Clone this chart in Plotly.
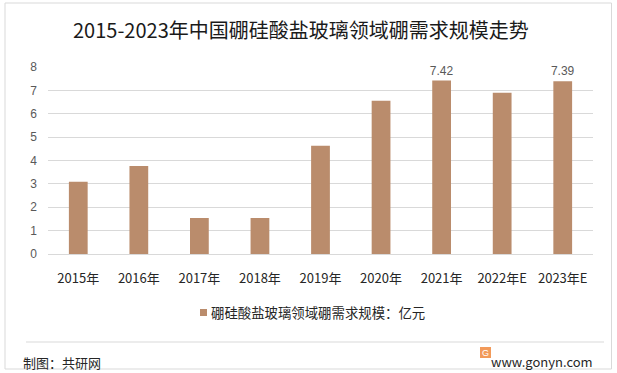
import plotly.graph_objects as go

categories = ["2015年", "2016年", "2017年", "2018年", "2019年", "2020年", "2021年", "2022年E", "2023年E"]
values = [3.09, 3.77, 1.54, 1.54, 4.63, 6.56, 7.42, 6.90, 7.39]
label_texts = ["", "", "", "", "", "", "7.42", "", "7.39"]
series_name = "硼硅酸盐玻璃领域硼需求规模：亿元"
title_text = "2015-2023年中国硼硅酸盐玻璃领域硼需求规模走势"
y_ticks = [0, 1, 2, 3, 4, 5, 6, 7, 8]

W, H = 617, 373
L, R, T, B = 48, 24, 67, 119
pw, ph = W - L - R, H - T - B

def px(x):
    return (x - L) / pw

def py(y):
    return (H - B - y) / ph

font_cjk = "Microsoft YaHei, Noto Sans CJK SC, sans-serif"
bar_color = "#BA8C6C"

fig = go.Figure()
fig.add_trace(go.Bar(
    x=categories, y=values, name=series_name,
    marker=dict(color=bar_color, line=dict(width=0)),
    width=0.31,
    text=label_texts, textposition="outside", constraintext="none",
    textfont=dict(size=12, color="#595959", family="Liberation Sans, Arial, sans-serif"),
    cliponaxis=False, showlegend=False,
))

fig.update_layout(
    width=W, height=H,
    margin=dict(l=L, r=R, t=T, b=B, autoexpand=False),
    paper_bgcolor="white", plot_bgcolor="white",
    font=dict(family=font_cjk),
    xaxis=dict(showgrid=False, showline=False, ticks="", ticklabelstandoff=15,
               tickfont=dict(size=13, color="#262626", family=font_cjk)),
    yaxis=dict(range=[0, 8], tickvals=y_ticks, showgrid=True, gridcolor="#D9D9D9",
               gridwidth=1, zeroline=True, zerolinecolor="#D9D9D9", zerolinewidth=1,
               showline=False, ticks="", ticklabelstandoff=10,
               tickfont=dict(size=12, color="#595959", family="Liberation Sans, Arial, sans-serif")),
)

# outer border
fig.add_shape(type="rect", xref="paper", yref="paper",
              x0=px(5), x1=px(611.5), y0=py(369), y1=py(3),
              line=dict(color="#D9D9D9", width=1), fillcolor="rgba(0,0,0,0)", layer="below")
# separator line
fig.add_shape(type="line", xref="paper", yref="paper",
              x0=px(26), x1=px(604), y0=py(342), y1=py(342),
              line=dict(color="#D9D9D9", width=1))
# legend swatch
fig.add_shape(type="rect", xref="paper", yref="paper",
              x0=px(200), x1=px(207), y0=py(316), y1=py(309),
              line=dict(width=0), fillcolor=bar_color)
fig.add_annotation(text=series_name, xref="paper", yref="paper", x=px(209), y=py(312),
                   xanchor="left", yanchor="middle", showarrow=False,
                   font=dict(size=13.4, color="#262626", family=font_cjk))
# logo square
fig.add_shape(type="rect", xref="paper", yref="paper",
              x0=px(480), x1=px(491), y0=py(358), y1=py(347),
              line=dict(width=0), fillcolor="#F29A5A")

fig.add_annotation(text=title_text, xref="paper", yref="paper", x=px(301), y=py(29),
                   xanchor="center", yanchor="middle", showarrow=False,
                   font=dict(size=20, color="#1a1a1a", family=font_cjk))
fig.add_annotation(text="制图：共研网", xref="paper", yref="paper", x=px(21), y=py(362),
                   xanchor="left", yanchor="middle", showarrow=False,
                   font=dict(size=13, color="#262626", family=font_cjk))
fig.add_annotation(text="www.gonyn.com", xref="paper", yref="paper", x=px(595), y=py(361),
                   xanchor="right", yanchor="middle", showarrow=False,
                   font=dict(size=13, color="#262626", family=font_cjk))
fig.add_annotation(text="G", xref="paper", yref="paper", x=px(485.5), y=py(352.5),
                   xanchor="center", yanchor="middle", showarrow=False,
                   font=dict(size=9, color="white", family="Liberation Sans, Arial, sans-serif"))

fig.write_html("out.html", config={"displayModeBar": False},
               post_script="document.body.style.margin='0';document.body.style.overflow='hidden';")
